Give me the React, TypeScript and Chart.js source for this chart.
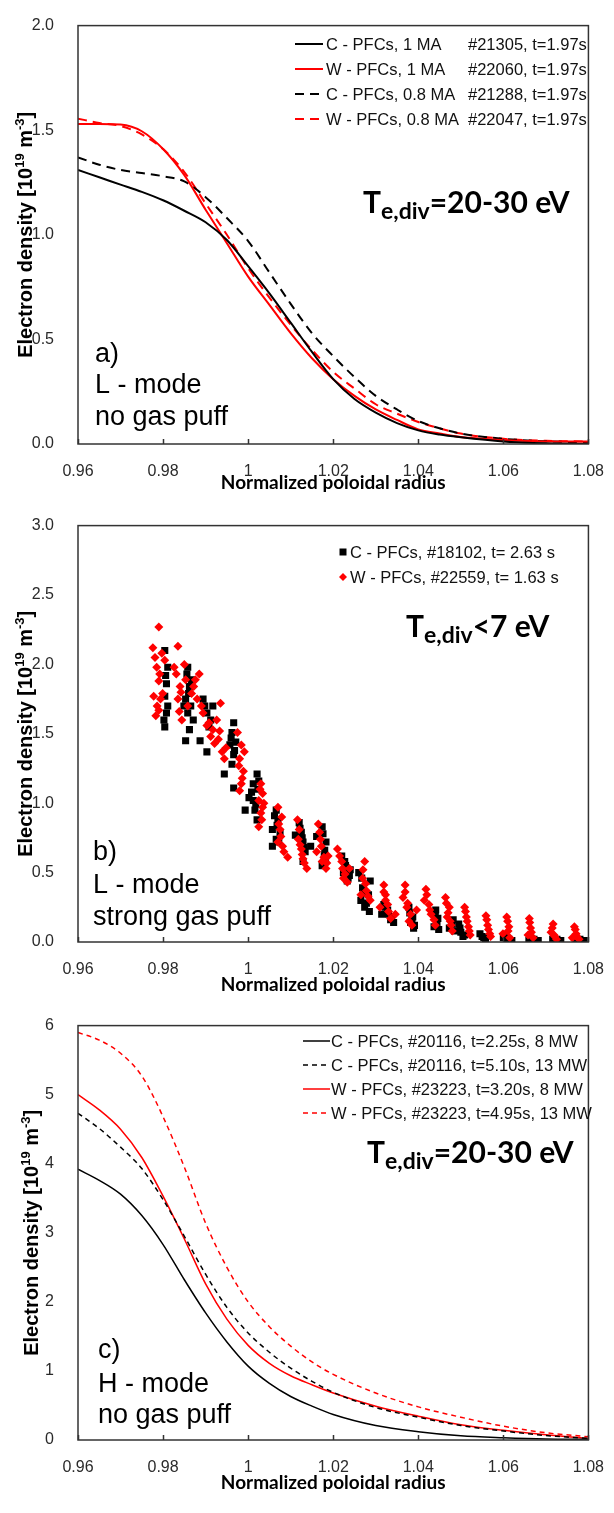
import React, { useEffect, useRef } from 'react';
import { Chart, registerables } from 'chart.js';
Chart.register(...registerables);

// ---------- shared axis data ----------
const xTickValues = [0.96, 0.98, 1.0, 1.02, 1.04, 1.06, 1.08];
const xTickLabels = ['0.96', '0.98', '1', '1.02', '1.04', '1.06', '1.08'];
const xTitle = 'Normalized poloidal radius';
const yTitleParts = [
  { t: 'Electron density [10', sup: false },
  { t: '19', sup: true },
  { t: ' m', sup: false },
  { t: '-3', sup: true },
  { t: ']', sup: false },
];

// ---------- panel a ----------
const aX = [0.96, 0.965, 0.97, 0.975, 0.98, 0.985, 0.99, 0.995, 1.0, 1.005, 1.01, 1.015, 1.02, 1.025, 1.03, 1.035, 1.04, 1.045, 1.05, 1.06, 1.07, 1.08];
const aC1MA = [1.31, 1.275, 1.24, 1.205, 1.165, 1.115, 1.06, 0.975, 0.85, 0.72, 0.58, 0.44, 0.31, 0.215, 0.15, 0.1, 0.065, 0.045, 0.032, 0.012, 0.003, 0.0];
const aW1MA = [1.53, 1.53, 1.527, 1.495, 1.41, 1.285, 1.12, 0.96, 0.8, 0.665, 0.53, 0.41, 0.31, 0.23, 0.165, 0.115, 0.07, 0.05, 0.033, 0.019, 0.012, 0.012];
const aC08MA = [1.37, 1.335, 1.31, 1.295, 1.28, 1.255, 1.18, 1.08, 0.97, 0.82, 0.67, 0.53, 0.42, 0.32, 0.23, 0.165, 0.11, 0.075, 0.05, 0.025, 0.013, 0.008];
const aW08MA = [1.555, 1.535, 1.52, 1.48, 1.41, 1.3, 1.15, 1.0, 0.84, 0.7, 0.57, 0.45, 0.345, 0.265, 0.19, 0.145, 0.105, 0.075, 0.05, 0.025, 0.015, 0.012];
const aLegendLeft = ['C - PFCs, 1 MA', 'W - PFCs, 1 MA', 'C - PFCs, 0.8 MA', 'W - PFCs, 0.8 MA'];
const aLegendRight = ['#21305, t=1.97s', '#22060, t=1.97s', '#21288, t=1.97s', '#22047, t=1.97s'];
const aYTicks = [0, 0.5, 1, 1.5, 2];
const aYLabels = ['0.0', '0.5', '1.0', '1.5', '2.0'];
const aMode = ['a)', 'L - mode', 'no gas puff'];
const aTe = ['T', 'e,div', '=20-30 eV'];

// ---------- panel b ----------
const bCX = [0.9804, 0.9811, 0.9808, 0.9804, 0.9811, 0.9802, 0.9804, 0.9858, 0.9867, 0.9862, 0.9853, 0.9858, 0.9862, 0.9853, 0.9849, 0.9871, 0.9894, 0.9903, 0.9912, 0.9917, 0.9887, 0.9903, 0.9944, 0.9966, 0.9966, 0.9962, 0.9957, 0.9966, 0.9962, 0.9971, 1.0021, 1.0012, 1.0002, 0.9993, 1.0016, 1.0021, 1.0012, 1.0025, 1.0066, 1.007, 1.0057, 1.0075, 1.0066, 1.0057, 1.012, 1.0125, 1.0129, 1.0134, 1.0129, 1.0111, 1.0147, 1.0161, 1.0174, 1.0183, 1.0179, 1.0174, 1.022, 1.0229, 1.0238, 1.0233, 1.0224, 1.026, 1.0269, 1.0265, 1.0274, 1.0287, 1.0283, 1.0319, 1.0328, 1.0337, 1.0342, 1.0314, 1.0378, 1.0387, 1.0391, 1.0382, 1.0441, 1.0446, 1.0437, 1.0482, 1.0473, 1.0495, 1.05, 1.0509, 1.0545, 1.0554, 1.0604, 1.0613, 1.0667, 1.0676, 1.0721, 1.073, 1.0776, 1.0785,
  0.9806, 0.9808, 0.9856, 0.986, 0.9865, 0.9898, 0.9908, 0.996, 0.9968, 1.0008, 1.0018, 1.0023, 1.0062, 1.0068, 1.0072, 1.0122, 1.0127, 1.0132, 1.0176, 1.018, 1.0182, 1.0227, 1.0235, 1.024, 1.0267, 1.0272, 1.0278, 1.0285, 1.0322, 1.033, 1.0335, 1.038, 1.0385, 1.0389, 1.044, 1.0444, 1.0448, 1.0478, 1.0485, 1.0498, 1.0505, 1.055, 1.0558, 1.06, 1.0608, 1.062, 1.066, 1.0672, 1.0682, 1.0716, 1.0726, 1.0735, 1.077, 1.078, 1.079];
const bCY = [2.1, 1.98, 1.86, 1.77, 1.7, 1.6, 1.55, 1.98, 1.89, 1.84, 1.75, 1.65, 1.53, 1.45, 1.7, 1.6, 1.75, 1.65, 1.6, 1.7, 1.45, 1.37, 1.21, 1.11, 1.58, 1.51, 1.42, 1.35, 1.28, 1.44, 1.21, 1.14, 1.04, 0.95, 0.95, 0.88, 1.02, 1.16, 0.95, 0.88, 0.81, 0.79, 0.74, 0.69, 0.86, 0.79, 0.72, 0.65, 0.58, 0.77, 0.69, 0.76, 0.83, 0.72, 0.62, 0.55, 0.62, 0.55, 0.48, 0.44, 0.5, 0.5, 0.39, 0.3, 0.25, 0.44, 0.34, 0.27, 0.23, 0.18, 0.14, 0.2, 0.25, 0.18, 0.12, 0.14, 0.23, 0.17, 0.11, 0.16, 0.1, 0.13, 0.07, 0.05, 0.06, 0.03, 0.05, 0.02, 0.02, 0.01, 0.01, 0.01, 0.01, 0.01,
  1.92, 1.65, 1.93, 1.79, 1.7, 1.7, 1.55, 1.47, 1.38, 1.08, 0.99, 1.1, 0.91, 0.84, 0.72, 0.82, 0.75, 0.68, 0.78, 0.66, 0.59, 0.58, 0.46, 0.52, 0.46, 0.35, 0.28, 0.22, 0.25, 0.2, 0.16, 0.21, 0.16, 0.1, 0.2, 0.14, 0.09, 0.13, 0.08, 0.1, 0.04, 0.04, 0.02, 0.03, 0.01, 0.01, 0.01, 0.02, 0.01, 0.02, 0.02, 0.01, 0.02, 0.02, 0.01];
const bWX = [0.9776, 0.9781, 0.9785, 0.979, 0.979, 0.9794, 0.979, 0.9783, 0.9778, 0.9799, 0.9804, 0.9835, 0.9826, 0.9831, 0.984, 0.9835, 0.9844, 0.9853, 0.9867, 0.9858, 0.9876, 0.9885, 0.988, 0.9894, 0.9903, 0.9917, 0.9926, 0.9935, 0.993, 0.9939, 0.9944, 0.9912, 0.9975, 0.9984, 0.998, 0.9989, 0.9984, 0.998, 1.003, 1.0034, 1.0025, 1.003, 1.0025, 1.0034, 1.007, 1.0079, 1.0075, 1.007, 1.0084, 1.0093, 1.0116, 1.012, 1.0125, 1.0138, 1.0129, 1.0165, 1.017, 1.0161, 1.0174, 1.0188, 1.0183, 1.021, 1.022, 1.0224, 1.0233, 1.0238, 1.0274, 1.0269, 1.0278, 1.0287, 1.0265, 1.0319, 1.0323, 1.0328, 1.031, 1.0346, 1.0369, 1.0364, 1.0373, 1.0382, 1.0396, 1.0418, 1.0414, 1.0427, 1.0437, 1.0464, 1.0473, 1.0468, 1.0477, 1.0509, 1.0513, 1.0518, 1.0559, 1.0563, 1.0568, 1.0608, 1.0613, 1.0599, 1.0661, 1.0664, 1.0658, 1.0717, 1.0712, 1.0721, 1.0767, 1.0771, 1.0762,
  1.0319, 1.0323, 1.033, 1.0335, 1.0369, 1.0375, 1.0378, 1.0385, 1.042, 1.0425, 1.043, 1.044, 1.0466, 1.047, 1.0475, 1.048, 1.0511, 1.0515, 1.052, 1.0522, 1.0561, 1.0565, 1.057, 1.061, 1.0611, 1.0615, 1.0662, 1.0666, 1.067, 1.0715, 1.0719, 1.0725, 1.0769, 1.0773, 1.0778,
  0.9786, 0.9792, 0.9797, 0.9838, 0.9842, 0.985, 0.9872, 0.989, 0.9908, 0.9921, 0.9933, 0.9948, 0.9978, 0.9986, 0.9991, 1.0028, 1.0032, 1.0037, 1.0072, 1.0077, 1.0081, 1.0118, 1.0122, 1.0127, 1.0132, 1.0168, 1.0172, 1.0178, 1.0185, 1.0215, 1.0222, 1.0228, 1.027, 1.0276, 1.0282];
const bWY = [2.12, 2.05, 1.98, 2.27, 1.88, 1.75, 1.67, 1.63, 1.77, 1.79, 2.03, 2.13, 1.98, 1.93, 1.84, 1.75, 1.6, 1.89, 1.79, 1.7, 1.89, 1.93, 1.75, 1.65, 1.56, 1.53, 1.6, 1.72, 1.46, 1.37, 1.32, 1.48, 1.51, 1.42, 1.32, 1.23, 1.14, 1.09, 1.14, 1.07, 1.02, 0.93, 0.83, 0.97, 0.97, 0.9, 0.81, 0.72, 0.65, 0.61, 0.88, 0.81, 0.67, 0.53, 0.6, 0.85, 0.74, 0.65, 0.58, 0.62, 0.53, 0.67, 0.58, 0.46, 0.43, 0.53, 0.58, 0.46, 0.37, 0.3, 0.34, 0.41, 0.34, 0.27, 0.25, 0.2, 0.41, 0.32, 0.25, 0.2, 0.23, 0.38, 0.3, 0.23, 0.16, 0.32, 0.25, 0.18, 0.12, 0.25, 0.18, 0.11, 0.19, 0.12, 0.06, 0.18, 0.11, 0.06, 0.17, 0.1, 0.05, 0.13, 0.07, 0.04, 0.11, 0.06, 0.03,
  0.36, 0.3, 0.22, 0.17, 0.36, 0.28, 0.15, 0.12, 0.34, 0.27, 0.2, 0.12, 0.28, 0.21, 0.15, 0.08, 0.22, 0.15, 0.08, 0.05, 0.16, 0.09, 0.04, 0.15, 0.08, 0.03, 0.14, 0.07, 0.03, 0.1, 0.05, 0.02, 0.09, 0.04, 0.02,
  1.7, 1.93, 2.08, 1.66, 1.8, 2.0, 1.84, 1.7, 1.58, 1.43, 1.52, 1.4, 1.27, 1.18, 1.37, 1.1, 0.88, 1.0, 0.85, 0.76, 0.69, 0.74, 0.7, 0.63, 0.57, 0.79, 0.69, 0.61, 0.57, 0.62, 0.53, 0.49, 0.52, 0.42, 0.33];
const bLegend = ['C - PFCs, #18102, t= 2.63 s', 'W - PFCs, #22559, t= 1.63 s'];
const bYTicks = [0, 0.5, 1, 1.5, 2, 2.5, 3];
const bYLabels = ['0.0', '0.5', '1.0', '1.5', '2.0', '2.5', '3.0'];
const bMode = ['b)', 'L - mode', 'strong gas puff'];
const bTe = ['T', 'e,div', '<7 eV'];

// ---------- panel c ----------
const cX = [0.96, 0.965, 0.97, 0.975, 0.98, 0.985, 0.99, 0.995, 1.0, 1.005, 1.01, 1.015, 1.02, 1.03, 1.04, 1.05, 1.06, 1.07, 1.08];
const cC8MW = [3.92, 3.76, 3.56, 3.25, 2.83, 2.32, 1.84, 1.42, 1.07, 0.82, 0.63, 0.49, 0.37, 0.21, 0.12, 0.06, 0.032, 0.014, 0.01];
const cC13MW = [4.73, 4.51, 4.24, 3.93, 3.48, 2.95, 2.4, 1.92, 1.55, 1.27, 1.04, 0.85, 0.69, 0.47, 0.33, 0.21, 0.13, 0.065, 0.024];
const cW8MW = [5.0, 4.78, 4.5, 4.09, 3.53, 2.91, 2.26, 1.75, 1.37, 1.11, 0.93, 0.8, 0.68, 0.49, 0.345, 0.22, 0.14, 0.075, 0.024];
const cW13MW = [5.9, 5.79, 5.6, 5.27, 4.68, 3.95, 3.14, 2.5, 2.0, 1.64, 1.36, 1.13, 0.95, 0.68, 0.48, 0.33, 0.2, 0.105, 0.047];
const cLegend = ['C - PFCs, #20116, t=2.25s, 8 MW', 'C - PFCs, #20116, t=5.10s, 13 MW', 'W - PFCs, #23223, t=3.20s, 8 MW', 'W - PFCs, #23223, t=4.95s, 13 MW'];
const cYTicks = [0, 1, 2, 3, 4, 5, 6];
const cYLabels = ['0', '1', '2', '3', '4', '5', '6'];
const cMode = ['c)', 'H - mode', 'no gas puff'];
const cTe = ['T', 'e,div', '=20-30 eV'];

const BLACK = '#000000';
const RED = '#ff0000';
const TICK_FONT = { family: '"Liberation Sans", Arial, sans-serif', size: 16 };
const SANS = '"Liberation Sans", Arial, sans-serif';
const BOLDF = 'Lato, "Open Sans", sans-serif';

type PanelCfg = {
  yTitleX: number;
  mode: string[];
  modeX: number;
  modeY: number[];
  te: string[];
  teX: number;
  teY: number;
  legend: { kind: 'line' | 'point'; x0: number; x1: number; tx: number; tx2?: number; rows: number[]; left: string[]; right?: string[] };
};

function panelPlugin(cfg: PanelCfg) {
  return {
    id: 'panelDeco',
    afterDraw(chart: any) {
      const ctx = chart.ctx as CanvasRenderingContext2D;
      const ca = chart.chartArea;
      const xs = chart.scales.x;
      ctx.save();
      // frame
      ctx.strokeStyle = '#333333';
      ctx.lineWidth = 1.5;
      ctx.strokeRect(ca.left, ca.top, ca.right - ca.left, ca.bottom - ca.top);
      // inward x ticks
      ctx.beginPath();
      xTickValues.forEach((v) => {
        const px = Math.round(xs.getPixelForValue(v)) + 0.5;
        ctx.moveTo(px, ca.bottom);
        ctx.lineTo(px, ca.bottom - 5);
      });
      ctx.stroke();

      // y title with superscripts
      const fs = 20;
      const supFs = 13;
      const mainFont = `bold ${fs}px ${SANS}`;
      const supFont = `bold ${supFs}px ${SANS}`;
      let total = 0;
      yTitleParts.forEach((p) => {
        ctx.font = p.sup ? supFont : mainFont;
        total += ctx.measureText(p.t).width;
      });
      const cy = (ca.top + ca.bottom) / 2;
      ctx.translate(cfg.yTitleX, cy);
      ctx.rotate(-Math.PI / 2);
      ctx.fillStyle = '#000';
      ctx.textBaseline = 'alphabetic';
      ctx.textAlign = 'left';
      let cx = -total / 2;
      const base = fs * 0.36;
      yTitleParts.forEach((p) => {
        ctx.font = p.sup ? supFont : mainFont;
        ctx.fillText(p.t, cx, p.sup ? base - fs * 0.42 : base);
        cx += ctx.measureText(p.t).width;
      });
      ctx.setTransform(1, 0, 0, 1, 0, 0);

      // mode labels
      ctx.font = `27px ${SANS}`;
      ctx.fillStyle = '#000';
      cfg.mode.forEach((t, i) => ctx.fillText(t, cfg.modeX, cfg.modeY[i]));

      // Te,div annotation
      let tx = cfg.teX;
      ctx.font = `bold 30px ${BOLDF}`;
      ctx.fillText(cfg.te[0], tx, cfg.teY);
      tx += ctx.measureText(cfg.te[0]).width;
      ctx.font = `bold 23px ${BOLDF}`;
      ctx.fillText(cfg.te[1], tx, cfg.teY + 6);
      tx += ctx.measureText(cfg.te[1]).width;
      ctx.font = `bold 30px ${BOLDF}`;
      ctx.fillText(cfg.te[2], tx, cfg.teY);

      // legend
      const lg = cfg.legend;
      ctx.font = `16.5px ${SANS}`;
      ctx.textBaseline = 'middle';
      chart.data.datasets.forEach((ds: any, i: number) => {
        const y = lg.rows[i];
        if (lg.kind === 'line') {
          ctx.save();
          ctx.strokeStyle = ds.borderColor;
          ctx.lineWidth = ds.borderWidth;
          ctx.setLineDash(ds.borderDash || []);
          ctx.beginPath();
          ctx.moveTo(lg.x0, y);
          ctx.lineTo(lg.x1, y);
          ctx.stroke();
          ctx.restore();
        } else {
          ctx.save();
          ctx.fillStyle = ds.backgroundColor;
          ctx.beginPath();
          if (ds.pointStyle === 'rect') {
            ctx.rect(lg.x0 - 3.5, y - 3.5, 7, 7);
          } else {
            ctx.moveTo(lg.x0, y - 4);
            ctx.lineTo(lg.x0 + 4, y);
            ctx.lineTo(lg.x0, y + 4);
            ctx.lineTo(lg.x0 - 4, y);
            ctx.closePath();
          }
          ctx.fill();
          ctx.restore();
        }
        ctx.fillStyle = '#111';
        ctx.fillText(lg.left[i], lg.tx, y + 1);
        if (lg.right && lg.tx2 !== undefined) ctx.fillText(lg.right[i], lg.tx2, y + 1);
      });
      ctx.restore();
    },
  };
}

function makeScales(yMax: number, yTicks: number[], yLabels: string[], xHeight: number, titlePadBottom: number) {
  return {
    x: {
      type: 'linear',
      min: 0.96,
      max: 1.08,
      afterBuildTicks: (s: any) => {
        s.ticks = xTickValues.map((v) => ({ value: v }));
      },
      afterFit: (s: any) => {
        s.height = xHeight;
      },
      ticks: {
        callback: (_v: any, i: number) => xTickLabels[i],
        font: TICK_FONT,
        color: '#2a2a2a',
        padding: 10,
        maxRotation: 0,
        autoSkip: false,
      },
      grid: { display: false },
      border: { display: false },
      title: {
        display: true,
        text: xTitle,
        font: { family: BOLDF, size: 19, weight: 'bold' },
        color: '#000',
        padding: { top: 0, bottom: titlePadBottom },
      },
    },
    y: {
      type: 'linear',
      min: 0,
      max: yMax,
      afterBuildTicks: (s: any) => {
        s.ticks = yTicks.map((v) => ({ value: v }));
      },
      afterFit: (s: any) => {
        s.width = 78;
      },
      ticks: {
        callback: (_v: any, i: number) => yLabels[i],
        font: TICK_FONT,
        color: '#2a2a2a',
        padding: 16,
        autoSkip: false,
      },
      grid: { display: false },
      border: { display: false },
      title: { display: false },
    },
  };
}

function lineDs(xs: number[], ys: number[], color: string, dash: number[], width: number) {
  return {
    data: xs.map((x, i) => ({ x, y: ys[i] })),
    borderColor: color,
    backgroundColor: color,
    borderWidth: width,
    borderDash: dash,
    pointRadius: 0,
    cubicInterpolationMode: 'monotone',
    fill: false,
  };
}

function ChartCanvas({ top, height, config }: { top: number; height: number; config: any }) {
  const ref = useRef<HTMLCanvasElement | null>(null);
  useEffect(() => {
    if (!ref.current) return;
    const ch = new Chart(ref.current, config);
    return () => ch.destroy();
  }, []);
  return (
    <canvas
      ref={ref}
      width={614}
      height={height}
      style={{ position: 'absolute', left: 0, top, width: 614, height }}
    />
  );
}

const baseOptions = (padTop: number) => ({
  animation: false,
  responsive: false,
  maintainAspectRatio: false,
  layout: { padding: { top: padTop, right: 17, left: 0, bottom: 0 } },
  plugins: { legend: { display: false }, tooltip: { enabled: false } },
});

const configA = {
  type: 'line',
  data: {
    datasets: [
      lineDs(aX, aC1MA, BLACK, [], 2),
      lineDs(aX, aW1MA, RED, [], 2),
      lineDs(aX, aC08MA, BLACK, [9, 6], 2),
      lineDs(aX, aW08MA, RED, [9, 6], 2),
    ],
  },
  options: { ...baseOptions(13), scales: makeScales(2, aYTicks, aYLabels, 56, 5.6) },
  plugins: [
    panelPlugin({
      yTitleX: 25,
      mode: aMode,
      modeX: 95,
      modeY: [362, 393, 425],
      te: aTe,
      teX: 363,
      teY: 213,
      legend: { kind: 'line', x0: 295, x1: 323, tx: 326, tx2: 468, rows: [44, 69, 94, 119], left: aLegendLeft, right: aLegendRight },
    }),
  ],
};

const configB = {
  type: 'scatter',
  data: {
    datasets: [
      {
        data: bCX.map((x, i) => ({ x, y: bCY[i] })),
        pointStyle: 'rect',
        pointRadius: 5,
        backgroundColor: BLACK,
        borderColor: BLACK,
        borderWidth: 0,
        order: 2,
      },
      {
        data: bWX.map((x, i) => ({ x, y: bWY[i] })),
        pointStyle: 'rectRot',
        pointRadius: 4.5,
        backgroundColor: RED,
        borderColor: RED,
        borderWidth: 0,
        order: 1,
      },
    ],
  },
  options: { ...baseOptions(14), scales: makeScales(3, bYTicks, bYLabels, 58, 3.6) },
  plugins: [
    panelPlugin({
      yTitleX: 25,
      mode: bMode,
      modeX: 93,
      modeY: [360, 393, 425],
      te: bTe,
      teX: 406,
      teY: 137,
      legend: { kind: 'point', x0: 343, x1: 343, tx: 350, rows: [52, 77], left: bLegend },
    }),
  ],
};

const configC = {
  type: 'line',
  data: {
    datasets: [
      lineDs(cX, cC8MW, BLACK, [], 1.5),
      lineDs(cX, cC13MW, BLACK, [5, 4], 1.5),
      lineDs(cX, cW8MW, RED, [], 1.5),
      lineDs(cX, cW13MW, RED, [5, 4], 1.5),
    ],
  },
  options: { ...baseOptions(19), scales: makeScales(6, cYTicks, cYLabels, 73, 18.6) },
  plugins: [
    panelPlugin({
      yTitleX: 31,
      mode: cMode,
      modeX: 98,
      modeY: [358, 392, 423],
      te: cTe,
      teX: 367,
      teY: 163,
      legend: { kind: 'line', x0: 303, x1: 330, tx: 331, rows: [41, 65, 89, 113], left: cLegend },
    }),
  ],
};

export default function App() {
  return (
    <div style={{ position: 'absolute', left: 0, top: 0, width: 614, height: 1513, background: '#fff' }}>
      <ChartCanvas top={0} height={500} config={configA} />
      <ChartCanvas top={500} height={500} config={configB} />
      <ChartCanvas top={1000} height={513} config={configC} />
    </div>
  );
}
